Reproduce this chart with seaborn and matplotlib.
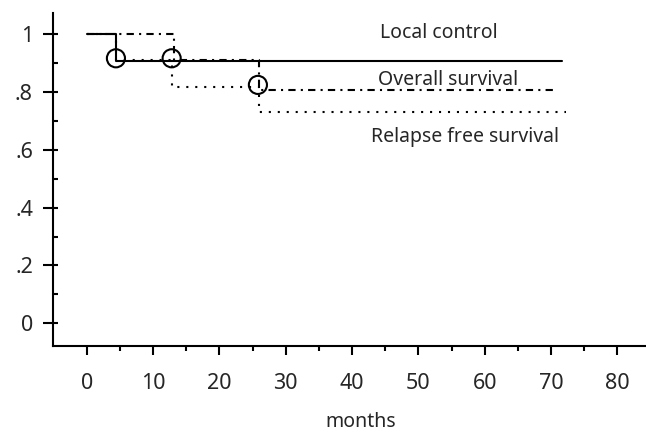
import matplotlib
matplotlib.use("Agg")
import matplotlib.pyplot as plt
from matplotlib.ticker import MultipleLocator, FixedLocator
import seaborn as sns
import pandas as pd

# Kaplan-Meier style step curves (months, proportion)
lc_months = [0, 4.4, 71.6]
lc_values = [1.0, 0.905, 0.905]

os_months = [0, 13.2, 26.0, 70.4]
os_values = [1.0, 0.909, 0.808, 0.808]

rfs_months = [0, 4.4, 12.8, 26.0, 72.3]
rfs_values = [1.0, 0.909, 0.818, 0.730, 0.730]

# open circles on the curves
circle_months = [4.4, 12.8, 25.8]
circle_values = [0.916, 0.916, 0.824]

y_ticks = [0, 0.2, 0.4, 0.6, 0.8, 1.0]
y_labels = ["0", ".2", ".4", ".6", ".8", "1"]
x_ticks = [0, 10, 20, 30, 40, 50, 60, 70, 80]
x_minor_ticks = [5, 15, 25, 35, 45, 55, 65, 75]

curve_labels = ["Local control", "Overall survival", "Relapse free survival"]

sns.set_style("ticks")
plt.rcParams['font.family'] = ['Noto Sans', 'DejaVu Sans']

fig = plt.figure(figsize=(6.46, 4.32), dpi=100)
ax = fig.add_axes([0.0816, 0.1998, 0.9184, 0.7708])

lw = 1.5
sns.lineplot(x=lc_months, y=lc_values, drawstyle="steps-post", color="black",
             linewidth=lw, estimator=None, ax=ax)
sns.lineplot(x=os_months, y=os_values, drawstyle="steps-post", color="black",
             linewidth=lw, linestyle=(0, (3.5, 2.5, 1, 2.5)), estimator=None, ax=ax)
sns.lineplot(x=rfs_months, y=rfs_values, drawstyle="steps-post", color="black",
             linewidth=lw, linestyle=(0, (1, 3.3)), estimator=None, ax=ax)

circles = pd.DataFrame({"months": circle_months, "value": circle_values})
sns.scatterplot(data=circles, x="months", y="value", marker="o", s=170,
                facecolors="none", edgecolor="black", linewidth=1.5, ax=ax, zorder=5)

# curve names
ax.text(53.0, 0.986, curve_labels[0], ha="center", va="baseline", fontsize=14)
ax.text(54.5, 0.824, curve_labels[1], ha="center", va="baseline", fontsize=14)
ax.text(57.0, 0.628, curve_labels[2], ha="center", va="baseline", fontsize=14)

ax.set_xlim(-5.13, 84.3)
ax.set_ylim(-0.0774, 1.0736)

ax.xaxis.set_major_locator(FixedLocator(x_ticks))
ax.xaxis.set_minor_locator(FixedLocator(x_minor_ticks))
ax.set_yticks(y_ticks)
ax.set_yticklabels(y_labels)
ax.yaxis.set_minor_locator(MultipleLocator(0.1))
ax.yaxis.remove_overlapping_locs = False

ax.tick_params(axis="x", which="major", direction="out", length=6.8, width=1.5,
               pad=13, labelsize=15.5, color="black", bottom=True)
ax.tick_params(axis="x", which="minor", direction="out", length=3.6, width=1.5,
               color="black", bottom=True)
ax.tick_params(axis="y", which="major", direction="out", length=7.2, width=1.5,
               pad=7, labelsize=15.5, color="black", left=True)
ax.tick_params(axis="y", which="minor", direction="in", length=3.6, width=1.5,
               color="black", left=True)

sns.despine(ax=ax)
for side in ["left", "bottom"]:
    ax.spines[side].set_linewidth(1.5)
    ax.spines[side].set_color("black")

ax.set_xlabel("")
ax.set_ylabel("")
fig.text(361 / 646, 1 - 427 / 432, "months", ha="center", va="baseline", fontsize=14)

fig.savefig("out.png", dpi=100)
